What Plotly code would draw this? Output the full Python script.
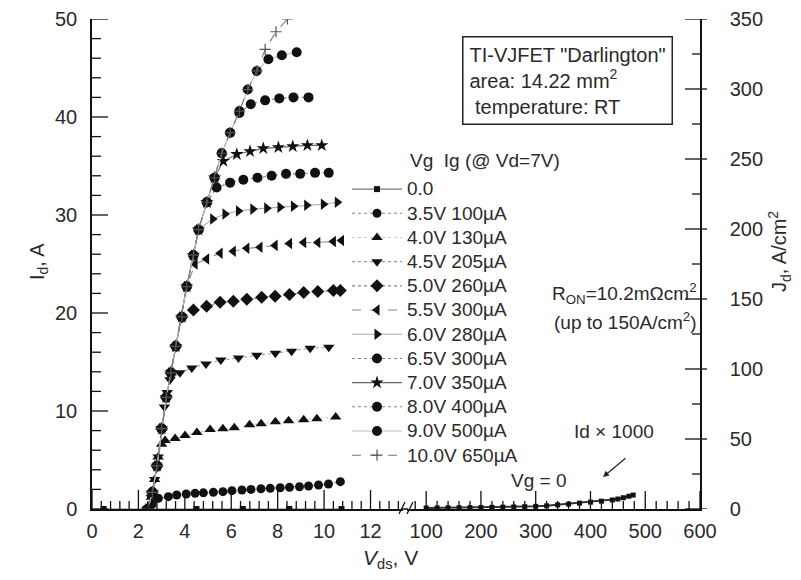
import plotly.graph_objects as go

# ---------------- data (Vds in V, Id in A) ----------------
vg0_vds = [0.5, 2.5, 4.5, 6.5, 8.5, 10.75]
vg0_id = [0, 0, 0, 0, 0, 0]

vg35_vds = [2.4, 2.6, 2.86, 3.29, 3.65, 4.06, 4.44, 4.8, 5.23, 5.64, 6.03, 6.46, 6.85, 7.28, 7.68, 8.11, 8.51, 8.94, 9.33, 9.76, 10.19, 10.7]
vg35_id = [0, 0.5, 1.1, 1.26, 1.43, 1.53, 1.6, 1.65, 1.7, 1.77, 1.87, 1.94, 2.0, 2.07, 2.11, 2.17, 2.21, 2.27, 2.35, 2.45, 2.55, 2.79]

vg40_vds = [2.4, 2.55, 2.7, 2.85, 3.0, 3.15, 3.58, 4.01, 4.52, 5.09, 5.64, 6.13, 6.79, 7.29, 7.9, 8.47, 9.12, 9.69, 10.5]
vg40_id = [0, 1.2, 3.0, 5.3, 6.6, 7.0, 7.2, 7.5, 7.8, 8.1, 8.2, 8.3, 8.6, 8.7, 8.9, 9.0, 9.1, 9.2, 9.4]

vg45_vds = [2.4, 2.55, 2.7, 2.85, 3.0, 3.12, 3.24, 3.36, 3.79, 4.3, 4.91, 5.55, 6.31, 7.1, 7.9, 8.6, 9.4, 10.2]
vg45_id = [0, 1.2, 3.0, 5.3, 8.2, 10.4, 11.9, 13.2, 13.9, 14.4, 14.8, 15.2, 15.4, 15.7, 15.9, 16.1, 16.4, 16.5]

vg50_vds = [2.4, 2.6, 2.8, 3.0, 3.2, 3.4, 3.61, 3.87, 4.37, 4.94, 5.52, 6.09, 6.67, 7.31, 7.89, 8.51, 9.12, 9.73, 10.4, 10.7]
vg50_id = [0, 1.7, 4.4, 8.2, 11.4, 13.9, 16.6, 19.6, 20.3, 20.7, 21.1, 21.2, 21.4, 21.6, 21.7, 21.9, 22.1, 22.2, 22.3, 22.3]

vg55_vds = [2.4, 2.6, 2.8, 3.0, 3.2, 3.4, 3.61, 3.87, 4.08, 4.44, 4.94, 5.52, 6.09, 6.67, 7.24, 7.89, 8.51, 9.12, 9.73, 10.4, 10.75]
vg55_id = [0, 1.7, 4.4, 8.2, 11.4, 13.9, 16.6, 19.6, 22.7, 25.0, 25.5, 26.1, 26.3, 26.6, 26.7, 26.9, 27.1, 27.2, 27.2, 27.3, 27.4]

vg60_vds = [2.4, 2.6, 2.8, 3.0, 3.2, 3.4, 3.61, 3.87, 4.08, 4.37, 4.59, 5.2, 5.73, 6.31, 6.93, 7.53, 8.1, 8.68, 9.25, 9.97, 10.57]
vg60_id = [0, 1.7, 4.4, 8.2, 11.4, 13.9, 16.6, 19.6, 22.7, 25.9, 28.5, 29.6, 30.1, 30.4, 30.6, 30.7, 30.8, 30.9, 31.0, 31.1, 31.3]

vg65_vds = [2.4, 2.6, 2.8, 3.0, 3.2, 3.4, 3.61, 3.87, 4.08, 4.37, 4.59, 4.95, 5.37, 5.95, 6.52, 7.13, 7.74, 8.36, 8.97, 9.61, 10.2]
vg65_id = [0, 1.7, 4.4, 8.2, 11.4, 13.9, 16.6, 19.6, 22.7, 25.9, 28.5, 31.3, 32.8, 33.3, 33.6, 33.8, 34.0, 34.2, 34.2, 34.3, 34.3]

vg70_vds = [2.4, 2.6, 2.8, 3.0, 3.2, 3.4, 3.61, 3.87, 4.08, 4.37, 4.59, 4.95, 5.28, 5.66, 6.24, 6.81, 7.38, 8.03, 8.65, 9.28, 9.9]
vg70_id = [0, 1.7, 4.4, 8.2, 11.4, 13.9, 16.6, 19.6, 22.7, 25.9, 28.5, 31.3, 33.8, 35.5, 36.2, 36.5, 36.8, 36.9, 37.0, 37.1, 37.1]

vg80_vds = [2.4, 2.6, 2.8, 3.0, 3.2, 3.4, 3.61, 3.87, 4.08, 4.37, 4.59, 4.95, 5.28, 5.59, 5.95, 6.35, 6.84, 7.46, 8.07, 8.68, 9.33]
vg80_id = [0, 1.7, 4.4, 8.2, 11.4, 13.9, 16.6, 19.6, 22.7, 25.9, 28.5, 31.3, 33.8, 36.3, 38.4, 40.4, 41.3, 41.7, 41.9, 42.0, 42.0]

vg90_vds = [2.4, 2.6, 2.8, 3.0, 3.2, 3.4, 3.61, 3.87, 4.08, 4.37, 4.59, 4.95, 5.28, 5.59, 5.95, 6.35, 6.71, 7.1, 7.6, 8.18, 8.82]
vg90_id = [0, 1.7, 4.4, 8.2, 11.4, 13.9, 16.6, 19.6, 22.7, 25.9, 28.5, 31.3, 33.8, 36.3, 38.4, 40.6, 42.8, 44.7, 45.9, 46.3, 46.6]

vg100_vds = [2.4, 2.6, 2.8, 3.0, 3.2, 3.4, 3.61, 3.87, 4.08, 4.37, 4.59, 4.95, 5.28, 5.59, 5.95, 6.35, 6.71, 7.1, 7.46, 7.93, 8.42]
vg100_id = [0, 1.7, 4.4, 8.2, 11.4, 13.9, 16.6, 19.6, 22.7, 25.9, 28.5, 31.3, 33.8, 36.3, 38.4, 40.6, 42.8, 44.7, 46.9, 48.7, 50.0]

# Vg = 0 blocking curve, Id x 1000 (high-voltage segment)
vg0_hv_vds = [100, 120, 140, 160, 180, 200, 220, 240, 260, 280, 300, 320, 340, 360, 380, 400, 420, 440, 450, 460, 470, 478]
vg0_hv_id = [0.1, 0.11, 0.12, 0.13, 0.14, 0.15, 0.17, 0.19, 0.21, 0.24, 0.27, 0.32, 0.42, 0.5, 0.6, 0.7, 0.8, 0.92, 1.02, 1.15, 1.3, 1.42]

legend_names = ["0.0", "3.5V 100µA", "4.0V 130µA", "4.5V 205µA", "5.0V 260µA", "5.5V 300µA",
                "6.0V 280µA", "6.5V 300µA", "7.0V 350µA", "8.0V 400µA", "9.0V 500µA", "10.0V 650µA"]

# tick labels
x_ticks_low = [0, 2, 4, 6, 8, 10, 12]
x_ticks_high = [100, 200, 300, 400, 500, 600]
y_ticks_i = [0, 10, 20, 30, 40, 50]
y_ticks_j = [0, 50, 100, 150, 200, 250, 300, 350]

# ---------------- geometry helpers ----------------
W, H = 801, 580
L, R, T, B = 92, 101, 19, 71
PW, PH = W - L - R, H - T - B
X_LOW = [0, 13.4]
X_HIGH = [65, 600]
Y_I = [0, 50]
Y_J = [0, 350]


def px(xp):
    return (xp - L) / PW


def py(yp):
    return (H - B - yp) / PH


FONT = "Liberation Sans, Arial, Helvetica, sans-serif"
TXT = "#2a2a2a"
INK = "#111"

series = [
    (vg0_vds, vg0_id, "square", 6, "solid", "#777"),
    (vg35_vds, vg35_id, "circle", 9, "dot", "#888"),
    (vg40_vds, vg40_id, "triangle-up", 10, "dot", "#ccc"),
    (vg45_vds, vg45_id, "triangle-down", 10, "dot", "#999"),
    (vg50_vds, vg50_id, "diamond", 10, "dot", "#888"),
    (vg55_vds, vg55_id, "triangle-left", 10, "dash", "#888"),
    (vg60_vds, vg60_id, "triangle-right", 10, "solid", "#aaa"),
    (vg65_vds, vg65_id, "circle", 10, "dot", "#888"),
    (vg70_vds, vg70_id, "star", 10, "solid", "#666"),
    (vg80_vds, vg80_id, "circle", 10, "dot", "#888"),
    (vg90_vds, vg90_id, "circle", 10, "solid", "#bbb"),
    (vg100_vds, vg100_id, "cross-thin", 8, "dash", "#777"),
]

fig = go.Figure()
for (xs, ys, sym, size, dash, lc), name in zip(series, legend_names):
    mk = dict(symbol=sym, size=size, color=INK)
    if sym == "cross-thin":
        mk = dict(symbol=sym, size=size, color="#555", line=dict(width=1.2, color="#555"))
    fig.add_trace(go.Scatter(
        x=xs, y=ys, mode="lines+markers", xaxis="x", yaxis="y",
        name='<span style="font-size:19px">' + name + '</span>',
        line=dict(color=lc, width=1.1, dash=dash), marker=mk,
    ))

fig.add_trace(go.Scatter(
    x=vg0_hv_vds, y=vg0_hv_id, mode="lines+markers", xaxis="x2", yaxis="y",
    line=dict(color="#333", width=2), marker=dict(symbol="square", size=5, color=INK),
    showlegend=False,
))
fig.add_trace(go.Scatter(x=[None], y=[None], xaxis="x2", yaxis="y2", showlegend=False, hoverinfo="skip"))

tickfont = dict(family=FONT, size=20, color=TXT)
main = dict(showgrid=False, zeroline=False, showline=True, linecolor=INK, linewidth=1.5,
            ticks="", tickfont=tickfont, tickmode="array")

fig.update_layout(
    width=W, height=H,
    margin=dict(l=L, r=R, t=T, b=B, pad=0, autoexpand=False),
    paper_bgcolor="white", plot_bgcolor="white",
    font=dict(family=FONT, color=TXT),
    xaxis=dict(domain=[0, px(403)], range=X_LOW, anchor="y", tickvals=x_ticks_low,
               ticklabelstandoff=3, **main),
    xaxis2=dict(domain=[px(407), 1], range=X_HIGH, anchor="y", tickvals=x_ticks_high,
                ticklabelstandoff=3, **main),
    yaxis=dict(range=Y_I, anchor="x", tickvals=y_ticks_i, ticklabelstandoff=9, **main),
    yaxis2=dict(range=Y_J, overlaying="y", side="right", anchor="x2", tickvals=y_ticks_j,
                ticklabelstandoff=24, **main),
    showlegend=True,
    legend=dict(x=px(347), y=py(172), xanchor="left", yanchor="top", bgcolor="rgba(0,0,0,0)",
                itemwidth=50, font=dict(family=FONT, size=16.3, color=TXT), traceorder="normal",
                itemclick=False),
)

# ---------------- tick marks (drawn on the axes' own scales) ----------------
def steps(start, stop, step):
    out, k = [], 0
    while True:
        v = round(start + k * step, 6)
        if v > stop + 1e-9:
            return out
        out.append(v)
        k += 1


shapes = []
TW = 1.3


def xtick(ref, v, length):
    shapes.append(dict(type="line", xref=ref, yref="paper", x0=v, x1=v, y0=0, y1=length / PH,
                       line=dict(color=INK, width=TW)))


def ytick(ref, v, x0, x1):
    shapes.append(dict(type="line", xref="paper", yref=ref, x0=x0, x1=x1, y0=v, y1=v,
                       line=dict(color=INK, width=TW)))


for v in steps(0, 13.3, 0.4):
    xtick("x", v, 19 if v in x_ticks_low else 8)
for v in steps(80, 600, 20):
    xtick("x2", v, 18 if v in x_ticks_high else 8)
for v in steps(0, 50, 2):
    ytick("y", v, 0, (16 if v in y_ticks_i else 9) / PW)
for v in steps(0, 350, 25):
    ln = 15 if v in y_ticks_j else 8
    ytick("y2", v, 1 - ln / PW, 1)
    if v in y_ticks_j:
        ytick("y2", v, 1, 1 + 7 / PW)

# axis break marks
for x0 in (399, 407):
    shapes.append(dict(type="line", xref="paper", yref="paper", x0=px(x0), y0=py(514), x1=px(x0 + 6),
                       y1=py(502), line=dict(color=INK, width=1.3)))
shapes.append(dict(type="line", xref="paper", yref="paper", x0=px(402), y0=py(509), x1=px(408),
                   y1=py(509), line=dict(color=INK, width=1.5)))
fig.update_layout(shapes=shapes)

ann_font = dict(family=FONT, size=19, color=TXT)
annotations = [
    dict(text='TI-VJFET "Darlington"<br>area: 14.22 mm<sup>2</sup><br>&nbsp;temperature: RT',
         x=px(567), y=py(81), xanchor="center", yanchor="middle", align="left",
         bordercolor="#222", borderwidth=1.5, borderpad=6, font=dict(family=FONT, size=20, color=TXT)),
    dict(text="Vg&nbsp;&nbsp;Ig (@ Vd=7V)", x=px(408), y=py(160), xanchor="left", yanchor="middle", font=ann_font),
    dict(text="R<sub>ON</sub>=10.2mΩcm<sup>2</sup>", x=px(699), y=py(293), xanchor="right", yanchor="middle", font=ann_font),
    dict(text="(up to 150A/cm<sup>2</sup>)", x=px(699), y=py(321), xanchor="right", yanchor="middle", font=ann_font),
    dict(text="Id × 1000", x=px(614), y=py(431), xanchor="center", yanchor="middle", font=ann_font),
    dict(text="Vg = 0", x=px(538), y=py(480), xanchor="center", yanchor="middle", font=ann_font),
    dict(text="", x=px(603), y=py(477), ax=24, ay=-20, showarrow=True, arrowhead=2, arrowsize=1,
         arrowwidth=1.2, arrowcolor="#222"),
    dict(text="I<sub>d</sub>, A", x=px(38), y=py(262), textangle=-90, xanchor="center", yanchor="middle",
         font=dict(family=FONT, size=20, color=TXT)),
    dict(text="J<sub>d</sub>, A/cm<sup>2</sup>", x=px(779), y=py(252), textangle=-90, xanchor="center",
         yanchor="middle", font=dict(family=FONT, size=20, color=TXT)),
    dict(text="<i>V</i><sub>ds</sub>, V", x=px(390), y=py(559), xanchor="center", yanchor="middle",
         font=dict(family=FONT, size=21, color=TXT)),
]
for a in annotations:
    a.setdefault("showarrow", False)
    a["xref"] = "paper"
    a["yref"] = "paper"
fig.update_layout(annotations=annotations)

fig.write_html("out.html")
